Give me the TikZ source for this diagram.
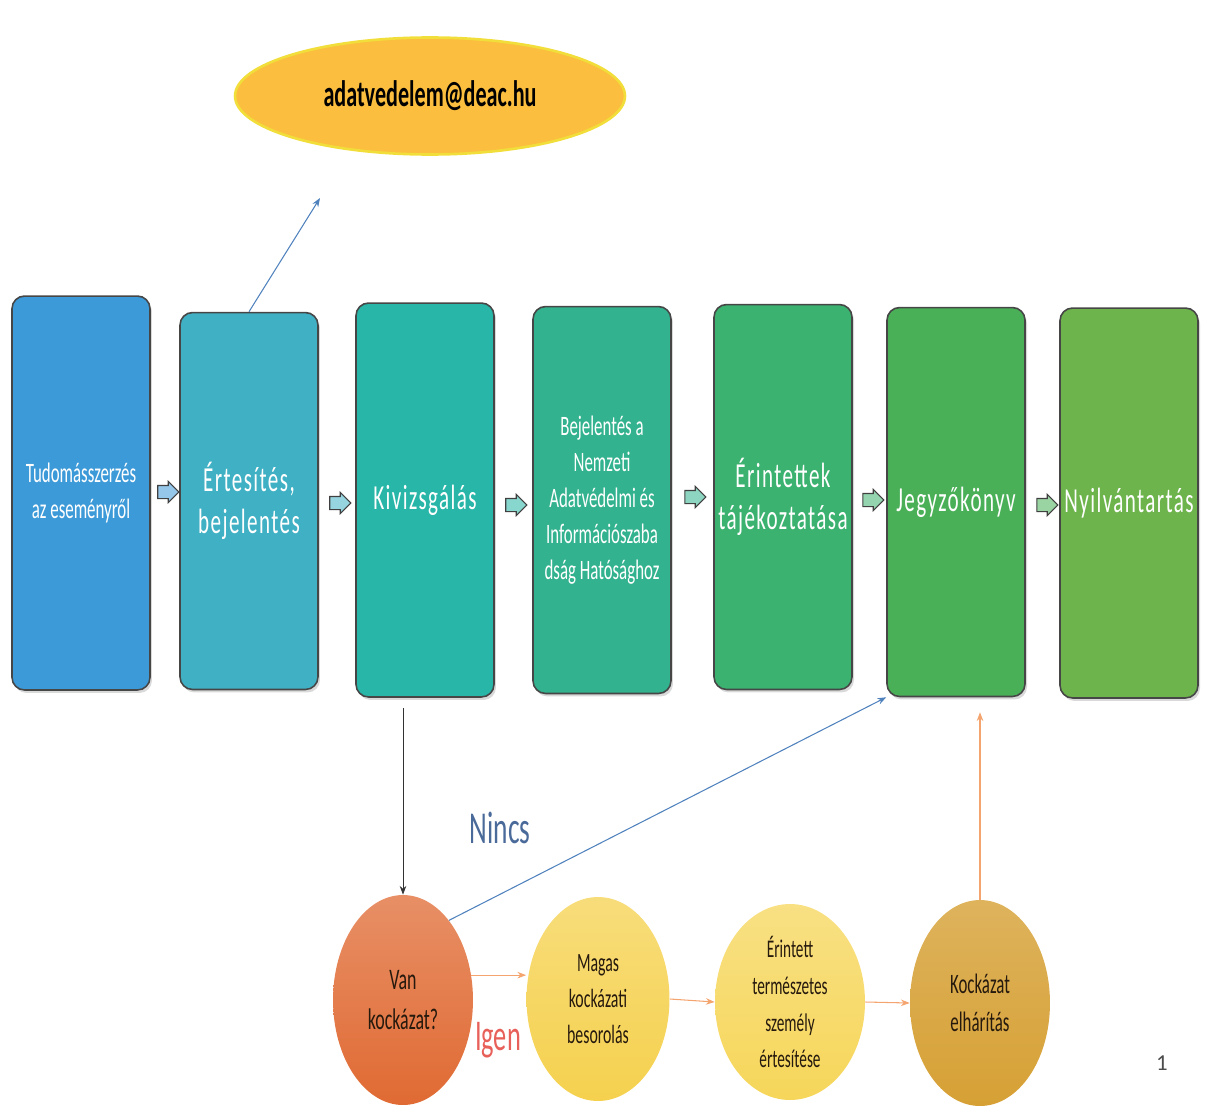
\documentclass[tikz,border=0pt]{standalone}
\usepackage{fontspec}
\setmainfont{Carlito}
\newfontfamily\narrow[FakeStretch=0.6]{Carlito}
\newfontfamily\spaced[FakeStretch=0.6, LetterSpace=4]{Carlito}
\usetikzlibrary{shapes.geometric,shapes.arrows,shadows,arrows.meta}

\definecolor{boxA}{HTML}{3D9AD8}
\definecolor{boxB}{HTML}{40B0C4}
\definecolor{boxC}{HTML}{27B6A8}
\definecolor{boxD}{HTML}{32B28E}
\definecolor{boxE}{HTML}{3CB270}
\definecolor{boxF}{HTML}{4AB058}
\definecolor{boxG}{HTML}{6EB44C}
\definecolor{mailfill}{HTML}{FBBE3E}
\definecolor{mailrim}{HTML}{F2DE3A}
\definecolor{riskred}{HTML}{E06A33}
\definecolor{riskyellow}{HTML}{F5D14E}
\definecolor{riskpale}{HTML}{F6D65A}
\definecolor{riskgold}{HTML}{D6A034}
\definecolor{lineblue}{HTML}{4F81BD}
\definecolor{flowline}{HTML}{F4A46E}
\definecolor{ninccol}{HTML}{4A6A9A}
\definecolor{igencol}{HTML}{E8605A}

\begin{document}
\begin{tikzpicture}[x=0.02cm, y=-0.02cm,
    stepbox/.style={draw=gray!55!black, line width=0.9pt, rounded corners=0.25cm,
        minimum width=2.76cm, text=white, align=center, inner sep=0pt,
        font=\spaced\fontsize{20}{24}\selectfont,
        drop shadow={opacity=0.3, shadow xshift=0.04cm, shadow yshift=-0.06cm}},
    gostep/.style={single arrow, draw=gray!50!black, line width=0.6pt,
        minimum height=0.42cm, inner sep=0.12cm, single arrow head extend=0.08cm},
    riskball/.style={ellipse, inner sep=0pt, align=center, text=black!80!brown,
        font=\narrow\fontsize{15}{20.5}\selectfont},
    flow/.style={-{Stealth[length=5pt]}, flowline, line width=0.6pt},
    link/.style={-{Stealth[length=5pt]}, lineblue, line width=0.6pt}
]
    \useasboundingbox (0,0) rectangle (1209,1105);

    % e-mail
    \node[ellipse, fill=mailfill, draw=mailrim, line width=1.5pt, minimum width=7.8cm,
        minimum height=2.34cm, font=\narrow\bfseries\fontsize{21}{24}\selectfont] (mail)
        at (430,96) {adatvedelem@deac.hu};

    % process steps
    \node[stepbox, fill=boxA, minimum height=7.88cm, font=\narrow\fontsize{16}{21}\selectfont]
        (b1) at (81,493) {Tudomásszerzés\\az eseményről};
    \node[stepbox, fill=boxB, minimum height=7.54cm] (b2) at (249,501) {Értesítés,\\bejelentés};
    \node[stepbox, fill=boxC, minimum height=7.88cm] (b3) at (425,500) {Kivizsgálás};
    \node[stepbox, fill=boxD, minimum height=7.74cm, font=\narrow\fontsize{16}{20.5}\selectfont]
        (b4) at (602,500) {Bejelentés a\\Nemzeti\\Adatvédelmi és\\Információszaba\\dság Hatósághoz};
    \node[stepbox, fill=boxE, minimum height=7.7cm] (b5) at (783,497) {Érintettek\\tájékoztatása};
    \node[stepbox, fill=boxF, minimum height=7.78cm] (b6) at (956,502) {Jegyzőkönyv};
    \node[stepbox, fill=boxG, minimum height=7.8cm] (b7) at (1129,503) {Nyilvántartás};

    % small arrows between the steps
    \node[gostep, fill=boxA!55!white] (a12) at (165,492) {};
    \node[gostep, fill=boxB!55!white] (a23) at (337,503) {};
    \node[gostep, fill=boxC!55!white] (a34) at (513,505) {};
    \node[gostep, fill=boxD!55!white] (a45) at (692,497) {};
    \node[gostep, fill=boxE!55!white] (a56) at (870,500) {};
    \node[gostep, fill=boxF!55!white] (a67) at (1044,505) {};

    % risk branch
    \node[riskball, top color=riskred!75!white, bottom color=riskred, minimum width=2.8cm,
        minimum height=4.2cm, font=\narrow\fontsize{17}{22.5}\selectfont]
        (van) at (403,1000) {Van\\kockázat?};
    \node[riskball, top color=riskyellow!75!white, bottom color=riskyellow, minimum width=2.86cm,
        minimum height=4.08cm] (magas) at (598,999) {Magas\\kockázati\\besorolás};
    \node[riskball, top color=riskpale!75!white, bottom color=riskpale, minimum width=3cm,
        minimum height=3.92cm, font=\narrow\fontsize{14.5}{21}\selectfont]
        (erint) at (790,1002) {Érintett\\természetes\\személy\\értesítése};
    \node[riskball, top color=riskgold!80!white, bottom color=riskgold, minimum width=2.8cm,
        minimum height=4.12cm, font=\narrow\fontsize{16}{21.5}\selectfont]
        (kock) at (980,1003) {Kockázat\\elhárítás};

    % labels
    \node[text=ninccol, font=\narrow\fontsize{26}{30}\selectfont] (nincs) at (500,828) {Nincs};
    \node[text=igencol, font=\narrow\fontsize{25}{30}\selectfont] (igen) at (498,1040) {Igen};
    \node[text=black!70, font=\fontsize{13}{15}\selectfont] (page) at (1162,1063) {1};

    % connectors
    \coordinate (mailend) at (320,198);
    \draw[link] (b2.north) -- (mailend);
    \draw[-{Stealth[length=5pt]}, black!80, line width=0.5pt]
        ([yshift=-0.2cm]b3.south -| van.north) -- (van.north);
    \draw[link] (van.60) -- (b6.south west);
    \draw[flow] (van.20) -- (van.20 -| magas.west);
    \draw[flow] (magas.east) -- (erint.west);
    \draw[flow] (erint.east) -- (kock.west);
    \draw[flow] (kock.north) -- ([yshift=-0.3cm]b6.south -| kock.north);
\end{tikzpicture}
\end{document}
